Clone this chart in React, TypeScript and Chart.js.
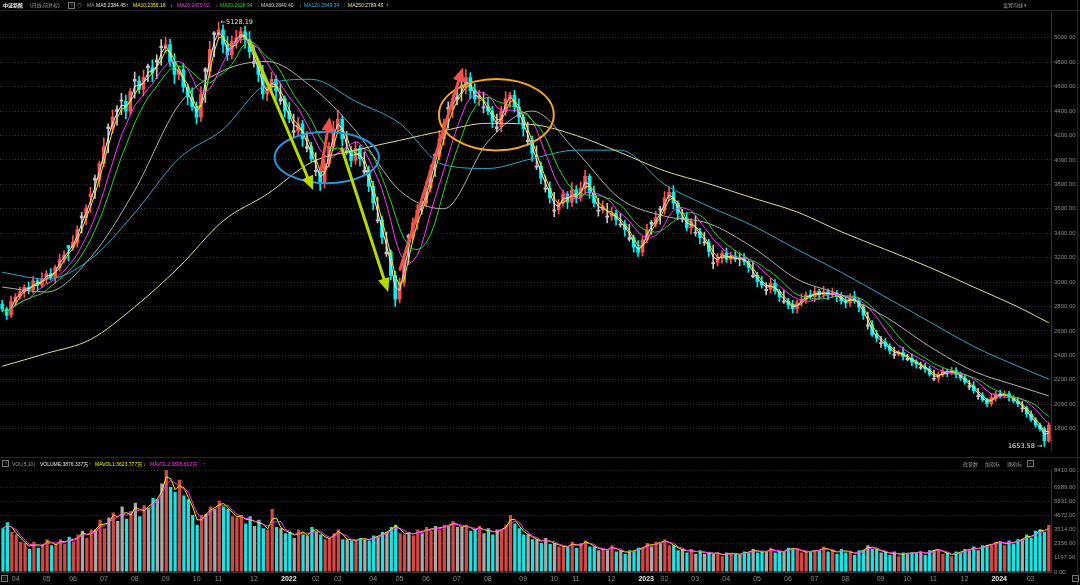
import React, { useEffect, useRef } from 'react';
import { Chart, registerables } from 'chart.js';

Chart.register(...registerables);

// each candle summarises this many trading days
const candleDays = 3;

const opens = [
  2820,2780,2730,2840,2880,2920,2960,2935,3010,2975,
  3025,3070,3040,3120,3185,3300,3280,3325,3540,3525,
  3700,3850,3835,3970,4270,4255,4395,4490,4480,4400,
  4660,4645,4580,4770,4755,4800,4930,4920,4945,4805,
  4700,4740,4595,4515,4435,4350,4745,4725,5040,5025,
  5065,4945,4860,4970,5000,5050,4985,4790,4805,4700,
  4540,4595,4660,4480,4500,4400,4225,4240,4295,4095,
  4110,3905,3915,3810,3970,4110,4255,4335,4060,4075,
  3995,4095,3900,3915,3785,3500,3510,3230,3245,3055,
  2860,3000,3380,3365,3485,3660,3645,3770,4045,4030,
  4175,4430,4415,4500,4605,4595,4675,4565,4500,4425,
  4435,4400,4255,4270,4400,4500,4530,4435,4350,4150,
  4160,3940,3950,3760,3770,3580,3590,3645,3720,3655,
  3755,3690,3770,3865,3730,3580,3590,3530,3540,3565,
  3465,3475,3350,3365,3285,3245,3345,3490,3475,3600,
  3590,3690,3735,3645,3515,3525,3445,3400,3410,3320,
  3330,3150,3160,3200,3235,3185,3215,3185,3200,3170,
  3045,3055,3005,2930,2940,2990,2925,2835,2845,2815,
  2780,2830,2860,2895,2880,2925,2895,2920,2895,2910,
  2880,2845,2830,2880,2845,2795,2640,2650,2570,2495,
  2505,2475,2400,2410,2425,2365,2375,2345,2295,2305,
  2290,2205,2215,2245,2270,2255,2275,2245,2215,2140,
  2150,2062,2070,2035,2005,2055,2085,2070,2085,2055,
  2025,1962,1970,1920,1875,1830,1800,1700,
];

const highs = [
  2850,2795,2885,2905,2960,2980,3000,3045,3025,3075,
  3095,3110,3140,3230,3255,3300,3380,3460,3570,3630,
  3775,3875,3990,4180,4295,4410,4445,4545,4530,4585,
  4720,4685,4735,4785,4820,4860,4985,5005,4990,4870,
  4770,4790,4620,4590,4475,4600,4755,4970,5050,5128.19,
  5105,5010,5015,5060,5085,5095,5050,4940,4830,4775,
  4635,4720,4690,4630,4525,4470,4375,4350,4325,4230,
  4145,4060,3935,4005,4145,4315,4405,4360,4235,4110,
  4150,4120,4065,3950,3825,3695,3540,3410,3265,3090,
  3035,3235,3390,3525,3635,3670,3825,3960,4050,4240,
  4335,4475,4530,4595,4645,4740,4715,4625,4570,4555,
  4505,4440,4375,4440,4560,4555,4570,4500,4375,4310,
  4195,4115,3985,3870,3820,3735,3675,3755,3740,3815,
  3790,3820,3915,3885,3785,3685,3665,3645,3615,3590,
  3560,3505,3475,3385,3340,3375,3475,3505,3580,3620,
  3740,3780,3790,3665,3595,3570,3520,3545,3440,3410,
  3350,3300,3235,3255,3280,3245,3255,3240,3235,3185,
  3170,3080,3045,2995,3030,3020,2940,2930,2870,2850,
  2850,2905,2920,2935,2960,2940,2965,2945,2950,2930,
  2915,2875,2905,2925,2870,2815,2755,2685,2605,2555,
  2540,2495,2465,2440,2465,2410,2410,2365,2345,2335,
  2310,2280,2265,2300,2285,2305,2300,2265,2245,2195,
  2185,2130,2095,2050,2090,2105,2115,2110,2105,2070,
  2055,2025,1985,1945,1890,1845,1815,1850,
];

const lows = [
  2755,2695,2710,2805,2860,2875,2905,2910,2930,2955,
  2990,3015,2990,3090,3155,3175,3260,3285,3405,3470,
  3570,3685,3780,3945,4060,4220,4285,4370,4335,4370,
  4505,4545,4525,4640,4640,4665,4775,4880,4765,4625,
  4655,4555,4450,4405,4295,4315,4470,4680,4845,4990,
  4875,4815,4825,4915,4960,4915,4835,4760,4640,4500,
  4485,4560,4495,4455,4350,4305,4190,4205,4110,4065,
  3985,3870,3750,3770,3940,4080,4215,4115,4045,3945,
  3965,3950,3875,3740,3590,3485,3315,3210,3020,2800,
  2830,2965,3145,3340,3430,3555,3615,3735,3865,4000,
  4125,4260,4345,4450,4480,4540,4500,4465,4445,4385,
  4370,4265,4230,4230,4365,4430,4390,4305,4195,4120,
  3990,3920,3805,3735,3645,3535,3555,3620,3600,3620,
  3645,3660,3725,3685,3615,3540,3565,3485,3505,3465,
  3450,3375,3335,3245,3210,3215,3320,3390,3450,3475,
  3555,3665,3600,3510,3490,3420,3395,3375,3315,3300,
  3210,3110,3130,3155,3160,3150,3165,3135,3140,3080,
  3035,2960,2950,2895,2910,2900,2840,2825,2780,2750,
  2745,2805,2825,2860,2840,2860,2870,2855,2875,2840,
  2820,2790,2800,2825,2755,2695,2615,2555,2510,2465,
  2450,2410,2375,2395,2360,2355,2315,2295,2285,2260,
  2230,2190,2180,2225,2225,2240,2215,2195,2165,2120,
  2090,2040,2020,1980,1985,2025,2050,2055,2025,2010,
  1980,1940,1895,1860,1810,1780,1653.58,1690,
];

const closes = [
  2780,2730,2840,2880,2920,2960,2935,3010,2975,3025,
  3070,3040,3120,3185,3220,3280,3325,3430,3525,3605,
  3720,3835,3970,4110,4255,4350,4415,4480,4400,4560,
  4645,4580,4675,4755,4710,4820,4920,4945,4805,4700,
  4740,4595,4515,4435,4350,4540,4725,4905,5025,5065,
  4945,4860,4970,5000,5050,4985,4885,4805,4700,4540,
  4595,4660,4565,4500,4400,4335,4240,4295,4175,4110,
  4010,3915,3810,3970,4110,4255,4335,4175,4075,3995,
  4095,4010,3915,3785,3645,3510,3365,3245,3055,2860,
  3000,3185,3365,3485,3590,3645,3770,3915,4030,4175,
  4295,4415,4500,4515,4595,4675,4565,4500,4530,4435,
  4400,4320,4270,4400,4500,4530,4435,4350,4255,4160,
  4055,3950,3850,3770,3690,3590,3645,3720,3655,3755,
  3690,3770,3865,3730,3645,3590,3620,3540,3565,3510,
  3475,3430,3365,3285,3245,3345,3430,3475,3525,3590,
  3690,3735,3645,3565,3525,3445,3495,3410,3365,3330,
  3250,3160,3200,3235,3185,3215,3185,3200,3170,3120,
  3055,3005,2975,2940,2990,2925,2880,2845,2815,2780,
  2830,2860,2895,2880,2925,2895,2920,2895,2910,2880,
  2845,2830,2880,2845,2795,2730,2650,2570,2540,2505,
  2475,2440,2410,2425,2390,2375,2345,2330,2305,2290,
  2245,2215,2245,2270,2255,2275,2245,2215,2180,2150,
  2110,2070,2035,2005,2055,2085,2070,2085,2055,2025,
  2005,1970,1920,1875,1830,1800,1700,1830,
];

// volume, in 万 (units of 10,000)
const volumes = [
  3600,4100,3300,3100,2500,2400,1900,2500,2000,2300,
  2700,2200,2300,2700,2300,2900,2500,3100,3400,2800,
  3500,3500,4300,3600,4500,4900,4200,5400,4400,5000,
  5700,4600,5500,5300,6100,6000,7300,8400,7000,6600,
  7600,6300,6000,4700,3900,4700,4800,5400,5200,5900,
  5400,5200,4600,4500,4700,4000,4600,3800,4300,3600,
  3500,5200,3700,3600,3200,3300,2800,3500,3100,3000,
  3700,3300,3100,2700,2800,3200,3500,2700,2700,2600,
  2600,2800,2700,2600,3000,2900,3300,3300,3700,3900,
  3200,3100,3300,3000,3500,3200,3700,3400,3800,3500,
  3900,3800,4200,3700,3700,3900,3400,3500,3800,3200,
  3600,3100,3500,3500,3900,4700,4000,3600,3100,3100,
  2700,2700,2400,2800,2300,2400,2100,2100,2100,2500,
  2000,2400,2600,2100,2100,1800,1900,1800,2200,1700,
  1800,1500,1800,1700,2000,2000,2400,2100,2500,2400,
  2700,2200,2200,1800,1900,1600,1900,1500,1800,1500,
  1600,1500,1600,1300,1600,1500,1500,1400,1700,1600,
  1900,1600,1700,1700,2000,1600,1700,1700,2000,1900,
  1900,1600,1700,1700,1800,1800,2100,1700,1800,1500,
  1900,1600,1700,1400,1800,1800,2200,1900,1900,1600,
  1700,1400,1700,1300,1600,1500,1600,1600,1700,1400,
  1800,1800,1900,1500,1600,1300,1700,1600,1900,1800,
  2100,1800,2200,2200,2300,2500,2500,2200,2600,2300,
  2700,2700,3100,2800,3400,3500,3300,3876.337,
];

// long moving averages at these candle indices
const longMaIdx = [0,10,20,30,40,50,60,70,80,90,100,110,120,130,140,150,160,170,180,190,200,210,220,230,237];
const ma60Pts = [2959,2918,3200,3750,4450,4730,4806,4600,4240,3750,3600,4150,4400,4070,3680,3540,3480,3283,3024,2894,2716,2473,2270,2149,2068];
const ma120Pts = [3080,3024,3186,3566,4012,4250,4619,4660,4480,4300,3960,3930,4010,4080,4080,3800,3620,3461,3267,3080,2878,2675,2473,2311,2206];
const ma250Pts = [2311,2416,2530,2797,3121,3500,3720,3980,4080,4160,4240,4300,4290,4200,4060,3910,3805,3688,3574,3412,3267,3121,2959,2797,2667];

// month tick labels and the candle where each month begins
const monthNames = ['04','05','06','07','08','09','10','11','12','2022','02','03','04','05','06','07','08','09','10','11','12','2023','02','03','04','05','06','07','08','09','10','11','12','2024','02'];
const monthStart = [2,9,15,22,29,36,43,48,56,63,70,75,83,89,95,102,109,117,124,129,137,144,149,156,163,170,177,183,190,198,204,210,217,224,232];

const priceTicks = [1800,2000,2200,2400,2600,2800,3000,3200,3400,3600,3800,4000,4200,4400,4600,4800,5000];
const volTicks = [0,1197,2356,3514,4672,5831,6989,8410];

// hand-drawn annotations, in (candle index, price) coordinates
const arrows = [
  { from: [56.1, 4968], to: [70.4, 3753], color: '#b6d900' },
  { from: [76.9, 4093], to: [87.4, 2918], color: '#b6d900' },
  { from: [72.2, 3915], to: [74.2, 4352], color: '#f0524a' },
  { from: [90.1, 3105], to: [104.3, 4757], color: '#f0524a' },
];
const ellipses = [
  { c: [73.5, 4020], rx: 11.8, ry: 211, color: '#2f92dc' },
  { c: [111.9, 4370], rx: 13.0, ry: 292, color: '#f2a526' },
];

const N = closes.length;
const labels = closes.map((_, i) => String(i));

function sma(arr: number[], n: number): number[] {
  return arr.map((_, i) => {
    const s = Math.max(0, i - n + 1);
    let sum = 0;
    for (let k = s; k <= i; k++) sum += arr[k];
    return sum / (i - s + 1);
  });
}
const win = (days: number) => Math.max(1, Math.round(days / candleDays));

function kind(i: number): 'up' | 'down' | 'flat' {
  const d = (closes[i] - opens[i]) / opens[i];
  if (Math.abs(d) < 0.005) return 'flat';
  return d > 0 ? 'up' : 'down';
}
const candleColor = { up: '#ff4f4f', down: '#00f0f0', flat: '#c4c4c4' };
const volColor = { up: '#d24844', down: '#19e3e3', flat: '#a9a9a9' };

function sparse(pts: number[]): (number | null)[] {
  const a: (number | null)[] = new Array(N).fill(null);
  longMaIdx.forEach((ix, k) => { a[ix] = pts[k]; });
  return a;
}

const FONT = '"Liberation Sans", Arial, sans-serif';

const annotPlugin = {
  id: 'annot',
  afterDatasetsDraw(chart: any) {
    const { ctx } = chart;
    const xs = chart.scales.x;
    const ys = chart.scales.y;
    ctx.save();
    ellipses.forEach((e) => {
      const cx = xs.getPixelForValue(e.c[0]);
      const cy = ys.getPixelForValue(e.c[1]);
      const rx = Math.abs(xs.getPixelForValue(e.c[0] + e.rx) - cx);
      const ry = Math.abs(ys.getPixelForValue(e.c[1] + e.ry) - cy);
      ctx.beginPath();
      ctx.ellipse(cx, cy, rx, ry, 0, 0, Math.PI * 2);
      ctx.strokeStyle = e.color;
      ctx.lineWidth = 2;
      ctx.stroke();
    });
    arrows.forEach((a) => {
      const x1 = xs.getPixelForValue(a.from[0]);
      const y1 = ys.getPixelForValue(a.from[1]);
      const x2 = xs.getPixelForValue(a.to[0]);
      const y2 = ys.getPixelForValue(a.to[1]);
      const ang = Math.atan2(y2 - y1, x2 - x1);
      const hl = 14, hw = 6;
      const bx = x2 - hl * Math.cos(ang);
      const by = y2 - hl * Math.sin(ang);
      ctx.strokeStyle = a.color;
      ctx.fillStyle = a.color;
      ctx.lineWidth = 3;
      ctx.lineCap = 'round';
      ctx.beginPath();
      ctx.moveTo(x1, y1);
      ctx.lineTo(bx, by);
      ctx.stroke();
      ctx.beginPath();
      ctx.moveTo(x2, y2);
      ctx.lineTo(bx + hw * Math.sin(ang), by - hw * Math.cos(ang));
      ctx.lineTo(bx - hw * Math.sin(ang), by + hw * Math.cos(ang));
      ctx.closePath();
      ctx.fill();
    });
    // extreme labels
    let hi = 0, lo = 0;
    highs.forEach((v, i) => { if (v > highs[hi]) hi = i; });
    lows.forEach((v, i) => { if (v < lows[lo]) lo = i; });
    ctx.font = `6.5px "DejaVu Sans", ${FONT}`;
    ctx.fillStyle = '#e8e8e8';
    ctx.textBaseline = 'middle';
    ctx.textAlign = 'left';
    ctx.fillText('\u2190' + highs[hi].toFixed(2), xs.getPixelForValue(hi) + 2, ys.getPixelForValue(highs[hi]));
    ctx.textAlign = 'right';
    ctx.fillText(lows[lo].toFixed(2) + ' \u2192', xs.getPixelForValue(lo) - 2, ys.getPixelForValue(lows[lo]));
    ctx.restore();
  },
};

const txt = (left: number, top: number, s: string, color: string, extra: any = {}) => (
  <span style={{ position: 'absolute', left, top, color, fontSize: 5, lineHeight: '6px', whiteSpace: 'nowrap', fontFamily: '"Liberation Sans", "Noto Sans CJK SC", sans-serif', ...extra }}>{s}</span>
);
const box = (left: number, top: number, s: string) => (
  <span style={{ position: 'absolute', left, top, width: 5, height: 5, border: '1px solid #777', color: '#999', fontSize: 4, lineHeight: '5px', textAlign: 'center', fontFamily: '"Liberation Sans", sans-serif' }}>{s}</span>
);

export default function App() {
  const priceRef = useRef<HTMLCanvasElement>(null);
  const volRef = useRef<HTMLCanvasElement>(null);

  useEffect(() => {
    document.body.style.margin = '0';
    document.body.style.background = '#000';

    const kinds = closes.map((_, i) => kind(i));
    const lineDs = (data: (number | null)[], color: string, sparseLine = false) => ({
      type: 'line' as const,
      data,
      borderColor: color,
      borderWidth: 1,
      pointRadius: 0,
      spanGaps: true,
      tension: sparseLine ? 0.4 : 0,
      cubicInterpolationMode: sparseLine ? ('monotone' as const) : ('default' as const),
      order: 0,
    });

    const c1 = new Chart(priceRef.current!, {
      type: 'bar',
      data: {
        labels,
        datasets: [
          {
            type: 'bar',
            data: lows.map((l, i) => [l, highs[i]]) as any,
            backgroundColor: kinds.map((k) => candleColor[k]),
            barThickness: 1,
            grouped: false,
            order: 2,
          } as any,
          {
            type: 'bar',
            data: opens.map((o, i) => [Math.min(o, closes[i]), Math.max(o, closes[i])]) as any,
            backgroundColor: kinds.map((k) => candleColor[k]),
            barThickness: 3,
            minBarLength: 1,
            grouped: false,
            order: 1,
          } as any,
          lineDs(sparse(ma250Pts), '#e0dc8e', true),
          lineDs(sparse(ma120Pts), '#2aa6c8', true),
          lineDs(sparse(ma60Pts), '#b0b0b0', true),
          lineDs(sma(closes, win(30)), '#22d822'),
          lineDs(sma(closes, win(20)), '#ff33ff'),
          lineDs(sma(closes, win(10)), '#f2f200'),
          lineDs(sma(closes, win(5)), '#eeeeee'),
        ] as any,
      },
      options: {
        animation: false,
        responsive: false,
        maintainAspectRatio: false,
        layout: { padding: { top: 12, bottom: 2, left: 0, right: 0 }, autoPadding: false } as any,
        plugins: { legend: { display: false }, tooltip: { enabled: false } },
        scales: {
          x: { display: false, offset: true, grid: { display: false } },
          y: {
            position: 'right',
            min: 1622,
            max: 5211,
            afterFit: (s: any) => { s.width = 29; },
            afterBuildTicks: (s: any) => { s.ticks = priceTicks.map((v) => ({ value: v })); },
            ticks: {
              color: '#8a8a8a',
              padding: 3,
              font: { size: 6, family: FONT },
              callback: (v: any) => Number(v).toFixed(2),
            },
            grid: { color: '#303030', drawTicks: false, lineWidth: 1 },
            border: { display: true, color: '#333333', dash: [1, 2] },
          } as any,
        },
      },
      plugins: [annotPlugin],
    });

    const tickMap = new Map<number, string>();
    monthStart.forEach((ix, k) => tickMap.set(ix, monthNames[k]));

    const c2 = new Chart(volRef.current!, {
      type: 'bar',
      data: {
        labels,
        datasets: [
          {
            type: 'bar',
            data: volumes,
            backgroundColor: kinds.map((k) => volColor[k]),
            categoryPercentage: 1,
            barPercentage: 0.74,
            order: 1,
          } as any,
          lineDs(sma(volumes, win(10)), '#ff33ff'),
          lineDs(sma(volumes, win(5)), '#f2f200'),
        ] as any,
      },
      options: {
        animation: false,
        responsive: false,
        maintainAspectRatio: false,
        layout: { padding: { top: 13, bottom: 0, left: 0, right: 0 }, autoPadding: false } as any,
        plugins: { legend: { display: false }, tooltip: { enabled: false } },
        scales: {
          x: {
            offset: true,
            afterFit: (s: any) => { s.height = 13; },
            grid: { display: false, drawTicks: false },
            border: { display: true, color: '#333333' },
            ticks: {
              autoSkip: false,
              maxRotation: 0,
              minRotation: 0,
              align: 'start',
              padding: 3,
              font: (ctx: any) => ({ size: 7, family: FONT, weight: /^20/.test(ctx.tick?.label || '') ? 'bold' : 'normal' }),
              color: (ctx: any) => (/^20/.test(ctx.tick?.label || '') ? '#e4e4e4' : '#8a8a8a'),
              callback: (_v: any, i: number) => tickMap.get(i) ?? '',
            },
          } as any,
          y: {
            position: 'right',
            min: 0,
            max: 8410,
            afterFit: (s: any) => { s.width = 29; },
            afterBuildTicks: (s: any) => { s.ticks = volTicks.map((v) => ({ value: v })); },
            ticks: {
              color: '#8a8a8a',
              padding: 3,
              font: { size: 6, family: FONT },
              callback: (v: any) => Number(v).toFixed(2),
            },
            grid: { color: '#303030', drawTicks: false },
            border: { display: true, color: '#333333', dash: [1, 2] },
          } as any,
        },
      },
    });

    return () => { c1.destroy(); c2.destroy(); };
  }, []);

  const line = (top: number) => (
    <div style={{ position: 'absolute', left: 0, top, width: 1080, height: 1, background: '#262626' }} />
  );

  return (
    <div style={{ position: 'relative', width: 1080, height: 585, background: '#000', overflow: 'hidden' }}>
      <canvas ref={priceRef} width={1080} height={457} style={{ position: 'absolute', left: 0, top: 0 }} />
      <canvas ref={volRef} width={1080} height={128} style={{ position: 'absolute', left: 0, top: 457 }} />
      {line(10)}
      {line(457)}
      <div style={{ position: 'absolute', left: 1077, top: 0, width: 1, height: 585, background: '#262626' }} />
      {/* main header */}
      {txt(3, 2, '中证新能', '#f2f2f2', { fontWeight: 'bold' })}
      {txt(30, 2, '(日线,前复权)', '#9a9a9a')}
      {box(68, 2, '?')}
      {txt(77, 2, '◎', '#9a9a9a')}
      {txt(87, 2, 'MA', '#9a9a9a')}
      {txt(96, 2, 'MA5:2384.45', '#e6e6e6')}
      {txt(126, 2, '↑', '#f0f0b0')}
      {txt(133, 2, 'MA10:2355.18', '#f2f200')}
      {txt(170, 2, '↓', '#f2f200')}
      {txt(177, 2, 'MA20:2479.92', '#ff33ff')}
      {txt(215, 2, '↓', '#ff33ff')}
      {txt(220, 2, 'MA30:2628.94', '#22d822')}
      {txt(257, 2, '↓', '#22d822')}
      {txt(261, 2, 'MA60:2849.40', '#d0d0d0')}
      {txt(299, 2, '↓', '#d0d0d0')}
      {txt(304, 2, 'MA120:2949.34', '#2ab4e2')}
      {txt(343, 2, '↓', '#2ab4e2')}
      {txt(348, 2, 'MA250:2789.45', '#e6e2a0')}
      {txt(386, 2, '↑', '#e6e2a0')}
      {txt(1003, 2, '设置均线 ▾', '#9a9a9a')}
      {/* volume header */}
      {box(2, 460, '?')}
      {txt(12, 461, 'VOL(5,10)', '#9a9a9a')}
      {txt(40, 461, 'VOLUME:3876.337万', '#e6e6e6')}
      {txt(89, 461, '↑', '#ff5050')}
      {txt(95, 461, 'MAVOL1:3623.777万', '#f2f200')}
      {txt(143, 461, '↓', '#f2f200')}
      {txt(150, 461, 'MAVOL2:3895.612万', '#ff33ff')}
      {txt(203, 461, '↑', '#ff33ff')}
      {txt(963, 461, '改参数', '#9a9a9a')}
      {txt(985, 461, '加指标', '#9a9a9a')}
      {txt(1007, 461, '换指标', '#9a9a9a')}
      {box(1027, 460, '×')}
      {box(1, 575, '□')}
      {box(1072, 575, '»')}
    </div>
  );
}
